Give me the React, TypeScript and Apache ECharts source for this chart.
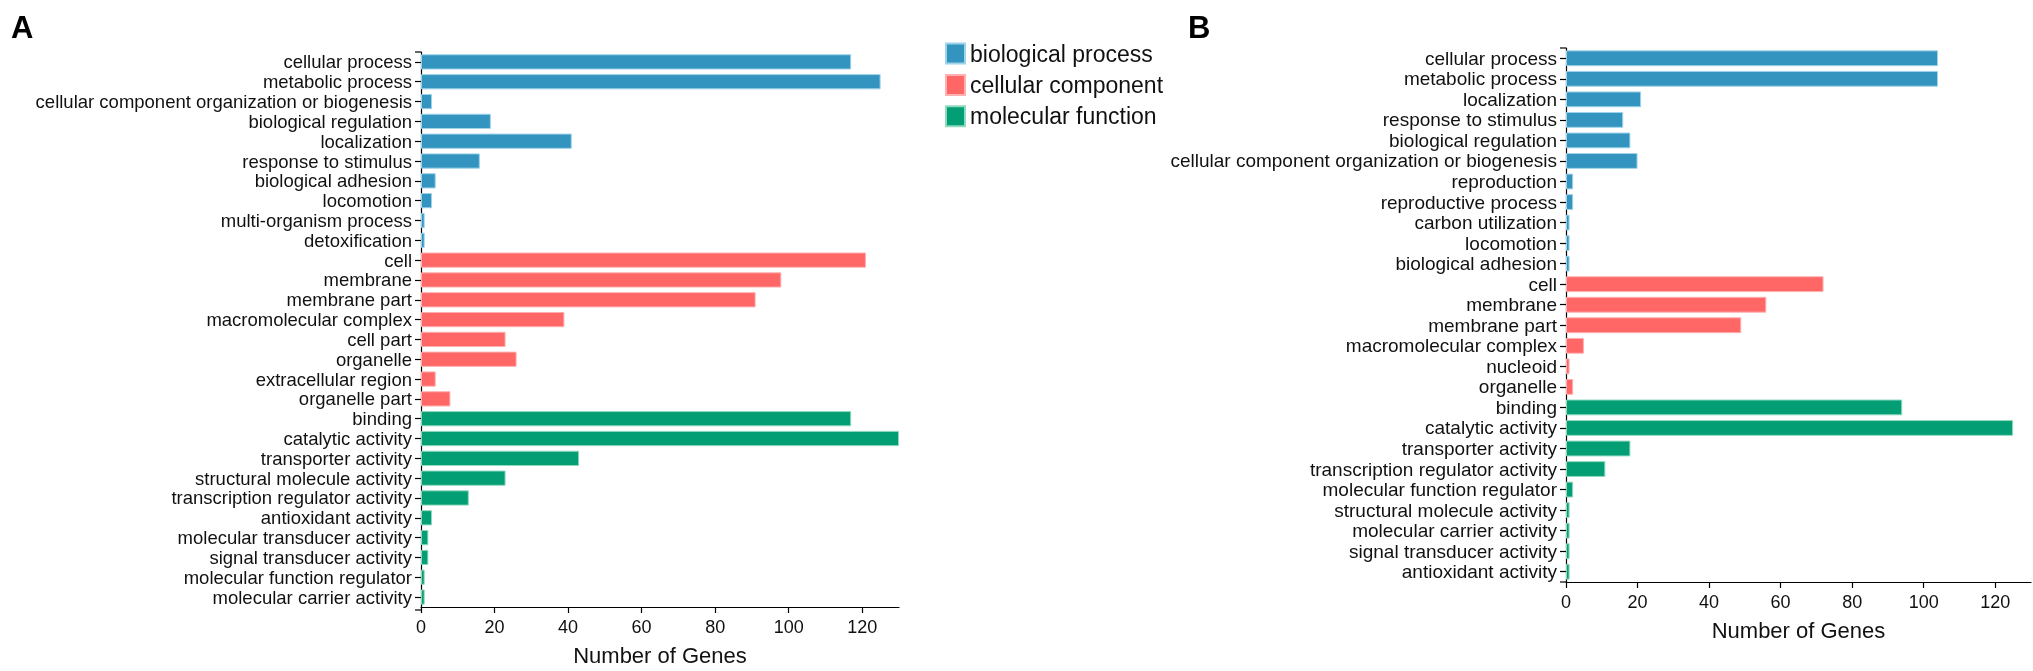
import React, { useEffect, useRef } from "react";
import * as echarts from "echarts";

const groupNames = ["biological process", "cellular component", "molecular function"];
const groupColors = ["#3394bf", "#ff6666", "#039e73"];
const groupBorders = ["#9fd3ea", "#ffb0b0", "#8fd9bf"];

// Panel A
const aBioCats = [
  "cellular process", "metabolic process", "cellular component organization or biogenesis",
  "biological regulation", "localization", "response to stimulus", "biological adhesion",
  "locomotion", "multi-organism process", "detoxification",
];
const aBioVals = [117, 125, 3, 19, 41, 16, 4, 3, 1, 1];
const aCellCats = [
  "cell", "membrane", "membrane part", "macromolecular complex", "cell part",
  "organelle", "extracellular region", "organelle part",
];
const aCellVals = [121, 98, 91, 39, 23, 26, 4, 8];
const aMolCats = [
  "binding", "catalytic activity", "transporter activity", "structural molecule activity",
  "transcription regulator activity", "antioxidant activity", "molecular transducer activity",
  "signal transducer activity", "molecular function regulator", "molecular carrier activity",
];
const aMolVals = [117, 130, 43, 23, 13, 3, 2, 2, 1, 1];

// Panel B
const bBioCats = [
  "cellular process", "metabolic process", "localization", "response to stimulus",
  "biological regulation", "cellular component organization or biogenesis", "reproduction",
  "reproductive process", "carbon utilization", "locomotion", "biological adhesion",
];
const bBioVals = [104, 104, 21, 16, 18, 20, 2, 2, 1, 1, 1];
const bCellCats = ["cell", "membrane", "membrane part", "macromolecular complex", "nucleoid", "organelle"];
const bCellVals = [72, 56, 49, 5, 1, 2];
const bMolCats = [
  "binding", "catalytic activity", "transporter activity", "transcription regulator activity",
  "molecular function regulator", "structural molecule activity", "molecular carrier activity",
  "signal transducer activity", "antioxidant activity",
];
const bMolVals = [94, 125, 18, 11, 2, 1, 1, 1, 1];

const xMin = 0;
const xMax = 130;
const xInterval = 20;

const FONT = "'Liberation Sans', Arial, Helvetica, sans-serif";

const gridA = { left: 421, top: 52, width: 478, height: 558 };
const gridB = { left: 1566, top: 48, width: 465, height: 534 };

function buildPanel(cats: string[][], vals: number[][], idx: number) {
  const categories = ([] as string[]).concat(...cats);
  const series = cats.map((group, g) => {
    const data: (number | string)[] = [];
    cats.forEach((grp, gg) => {
      grp.forEach((_, i) => data.push(gg === g ? vals[gg][i] : "-"));
    });
    return {
      name: groupNames[g],
      type: "bar",
      xAxisIndex: idx,
      yAxisIndex: idx,
      stack: "panel" + idx,
      barCategoryGap: "23%",
      itemStyle: { color: groupColors[g], borderColor: groupBorders[g], borderWidth: 1 },
      data,
    };
  });
  return { categories, series };
}

export default function App() {
  const ref = useRef<HTMLDivElement>(null);
  useEffect(() => {
    if (!ref.current) return;
    const chart = echarts.init(ref.current, undefined, { renderer: "svg" });
    const A = buildPanel([aBioCats, aCellCats, aMolCats], [aBioVals, aCellVals, aMolVals], 0);
    const B = buildPanel([bBioCats, bCellCats, bMolCats], [bBioVals, bCellVals, bMolVals], 1);

    const xAxisBase = (fontSize: number) => ({
      type: "value",
      min: xMin,
      max: xMax,
      interval: xInterval,
      splitLine: { show: false },
      axisLine: { show: true, lineStyle: { color: "#000", width: 1.2 } },
      axisTick: { show: true, length: 6, lineStyle: { color: "#000", width: 1.2 } },
      axisLabel: { color: "#111", fontSize, fontFamily: FONT, margin: 11, showMaxLabel: false },
      name: "Number of Genes",
      nameLocation: "middle",
      nameGap: 37,
      nameTextStyle: { color: "#111", fontSize: 22, fontFamily: FONT },
    });
    const yAxisBase = (data: string[], fontSize: number) => ({
      type: "category",
      inverse: true,
      data,
      axisLine: { show: true, lineStyle: { color: "#000", width: 1.2 } },
      axisTick: { show: true, alignWithLabel: true, length: 6, lineStyle: { color: "#000", width: 1.2 } },
      axisLabel: { color: "#111", fontSize, fontFamily: FONT, margin: 9, interval: 0 },
    });

    const cap = (x: number, y: number) => ({
      type: "line",
      shape: { x1: x - 6, y1: y, x2: x, y2: y },
      style: { stroke: "#000", lineWidth: 1.2 },
    });

    chart.setOption({
      animation: false,
      textStyle: { fontFamily: FONT },
      grid: [
        { ...gridA, containLabel: false },
        { ...gridB, containLabel: false },
      ],
      xAxis: [{ ...xAxisBase(18), gridIndex: 0 }, { ...xAxisBase(18), gridIndex: 1 }],
      yAxis: [
        { ...yAxisBase(A.categories, 18.5), gridIndex: 0 },
        { ...yAxisBase(B.categories, 19), gridIndex: 1 },
      ],
      legend: {
        data: groupNames,
        orient: "vertical",
        left: 940,
        top: 37,
        itemWidth: 19,
        itemHeight: 20,
        itemGap: 8.4,
        icon: "rect",
        textStyle: { color: "#111", fontSize: 23, lineHeight: 20, fontFamily: FONT },
      },
      graphic: [
        { type: "text", left: 11, top: 12, style: { text: "A", fontSize: 31, fontWeight: "bold", fill: "#000", fontFamily: FONT } },
        { type: "text", left: 1188, top: 12, style: { text: "B", fontSize: 31, fontWeight: "bold", fill: "#000", fontFamily: FONT } },
        cap(gridA.left, gridA.top),
        cap(gridA.left, gridA.top + gridA.height),
        cap(gridB.left, gridB.top),
        cap(gridB.left, gridB.top + gridB.height),
      ],
      series: [...A.series, ...B.series],
    });
    return () => chart.dispose();
  }, []);
  return <div ref={ref} style={{ position: "fixed", left: 0, top: 0, width: 2033, height: 671 }} />;
}
